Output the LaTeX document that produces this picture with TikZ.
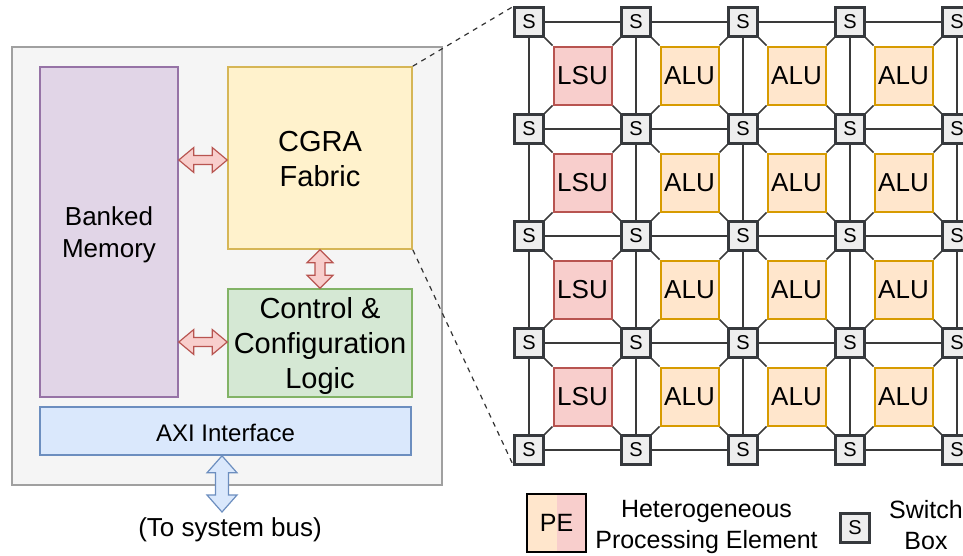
\documentclass[tikz,border=0pt]{standalone}
\usepackage{fontspec}
\setmainfont{Liberation Sans}
\usetikzlibrary{calc,backgrounds}

\definecolor{memfill}{HTML}{E1D5E7}\definecolor{memdraw}{HTML}{9673A6}
\definecolor{cgrafill}{HTML}{FFF2CC}\definecolor{cgradraw}{HTML}{D6B656}
\definecolor{ctrlfill}{HTML}{D5E8D4}\definecolor{ctrldraw}{HTML}{82B366}
\definecolor{axifill}{HTML}{DAE8FC}\definecolor{axidraw}{HTML}{6C8EBF}
\definecolor{lsufill}{HTML}{F8CECC}\definecolor{lsudraw}{HTML}{B85450}
\definecolor{alufill}{HTML}{FFE6CC}\definecolor{aludraw}{HTML}{D79B00}
\definecolor{swfill}{HTML}{EEEEEE}\definecolor{swdraw}{HTML}{36393D}
\definecolor{socfill}{HTML}{F5F5F5}\definecolor{socdraw}{HTML}{A0A0A0}
\definecolor{wire}{HTML}{3A3A3A}

% outlined double-headed arrow between two points:
% #1 style, #2 start, #3 end, #4 head length, #5 head half-width, #6 shaft half-width
\newcommand\flexarrow[6]{%
  \coordinate (fa1) at ($(#2)!#4!(#3)$);
  \coordinate (fa2) at ($(#3)!#4!(#2)$);
  \draw[#1] (#2) -- ($(fa1)!#5!90:(#3)$) -- ($(fa1)!#6!90:(#3)$)
    -- ($(fa2)!#6!-90:(#2)$) -- ($(fa2)!#5!-90:(#2)$) -- (#3)
    -- ($(fa2)!#5!90:(#2)$) -- ($(fa2)!#6!90:(#2)$)
    -- ($(fa1)!#6!-90:(#3)$) -- ($(fa1)!#5!-90:(#3)$) -- cycle;}

\tikzset{
  blk/.style={draw, line width=1.6pt, inner sep=0pt, align=center, text=black},
  blktext/.style={align=center, inner sep=0pt, yshift=-3pt},
  sw/.style={draw=swdraw, fill=swfill, line width=2.2pt, minimum size=29pt,
    inner sep=0pt, font=\fontsize{20}{22}\selectfont},
  pe/.style={draw, line width=2pt, minimum size=58pt, inner sep=0pt,
    font=\fontsize{26}{30}\selectfont},
  lsu/.style={pe, fill=lsufill, draw=lsudraw},
  alu/.style={pe, fill=alufill, draw=aludraw},
  wireline/.style={draw=wire, line width=1.6pt},
  redarrow/.style={fill=lsufill, draw=lsudraw, line width=1.2pt, line join=miter},
  bluearrow/.style={fill=axifill, draw=axidraw, line width=1.2pt, line join=miter},
  zoomline/.style={draw=black!80, line width=1.2pt, dash pattern=on 5pt off 5pt},
  legendtext/.style={align=center, font=\fontsize{25}{31}\selectfont},
}

\begin{document}
\begin{tikzpicture}[x=1pt, y=-1pt]
\useasboundingbox (0,0) rectangle (963,555);
\begin{scope}
\clip (0,0) rectangle (963,555);

% ---- accelerator block diagram ----
\node[blk, draw=socdraw, fill=socfill, minimum width=430pt, minimum height=438pt]
  (soc) at (227,266) {};
\node[blk, draw=memdraw, fill=memfill, minimum width=138pt, minimum height=330pt,
  label={[blktext, font=\fontsize{26}{32}\selectfont]center:{Banked\\Memory}}]
  (mem) at (109,232) {};
\node[blk, draw=cgradraw, fill=cgrafill, minimum width=184pt, minimum height=182pt,
  label={[blktext, yshift=2pt, font=\fontsize{29}{35}\selectfont]center:{CGRA\\Fabric}}]
  (cgra) at (320,158) {};
\node[blk, draw=ctrldraw, fill=ctrlfill, minimum width=184pt, minimum height=108pt,
  label={[blktext, font=\fontsize{29}{35}\selectfont]center:{Control \&\\Configuration\\Logic}}]
  (ctrl) at (320,343) {};
\node[blk, draw=axidraw, fill=axifill, minimum width=371pt, minimum height=48pt,
  label={[blktext, yshift=1pt, font=\fontsize{24}{28}\selectfont]center:{AXI Interface}}]
  (axi) at (225.5,431) {};
\node[anchor=base, font=\fontsize{26}{30}\selectfont] (bus) at (230,536) {(To system bus)};

\coordinate (ya) at (0,160);
\coordinate (yb) at (0,342);
\coordinate (busend) at (222,512);
\flexarrow{redarrow}{mem.east |- ya}{cgra.west |- ya}{15pt}{12.5pt}{4.5pt}
\flexarrow{redarrow}{mem.east |- yb}{ctrl.west |- yb}{15pt}{12.5pt}{4.5pt}
\flexarrow{redarrow}{cgra.south}{ctrl.north}{13pt}{13pt}{5pt}
\flexarrow{bluearrow}{axi.south -| busend}{busend}{17pt}{15pt}{6.5pt}

% ---- CGRA fabric: switch boxes and processing elements ----
\foreach \c in {1,...,5}{
  \foreach \r in {1,...,5}{
    \node[sw] (s-\c-\r) at ({529+107*(\c-1)},{22+107*(\r-1)}) {S};
  }
}
\foreach \c in {1,...,4}{
  \foreach \r in {1,...,4}{
    \ifnum\c=1 \def\petype{lsu}\def\petext{LSU}\else\def\petype{alu}\def\petext{ALU}\fi
    \node[\petype] (p-\c-\r) at ({582.5+107*(\c-1)},{75.5+107*(\r-1)}) {\petext};
  }
}
\begin{scope}[on background layer]
  \foreach \r in {1,...,5}{\draw[wireline] (s-1-\r.center) -- (s-5-\r.center);}
  \foreach \c in {1,...,5}{\draw[wireline] (s-\c-1.center) -- (s-\c-5.center);}
  \foreach \c in {1,...,4}{
    \foreach \r in {1,...,4}{
      \pgfmathtruncatemacro\cn{\c+1}
      \pgfmathtruncatemacro\rn{\r+1}
      \draw[wireline] (s-\c-\r.south east) -- (p-\c-\r.north west);
      \draw[wireline] (s-\cn-\r.south west) -- (p-\c-\r.north east);
      \draw[wireline] (s-\c-\rn.north east) -- (p-\c-\r.south west);
      \draw[wireline] (s-\cn-\rn.north west) -- (p-\c-\r.south east);
    }
  }
\end{scope}

% zoom lines from the fabric block to the tile array
\draw[zoomline] (cgra.north east) -- (s-1-1.north west);
\draw[zoomline] (cgra.south east) -- (s-1-5.south west);

% ---- legend ----
\node[draw=black, line width=2pt, minimum width=59pt, minimum height=58pt, inner sep=0pt,
  fill=lsufill, font=\fontsize{25}{30}\selectfont,
  path picture={\fill[alufill] (path picture bounding box.north west)
    rectangle (path picture bounding box.south);}] (pelegend) at (556.5,523) {PE};
\node[legendtext] (petext) at (706.5,527) {Heterogeneous\\Processing Element};
\node[sw] (swlegend) at (855,528) {S};
\node[legendtext] (swtext) at (926,525.5) {Switch\\Box};
\end{scope}
\end{tikzpicture}
\end{document}
